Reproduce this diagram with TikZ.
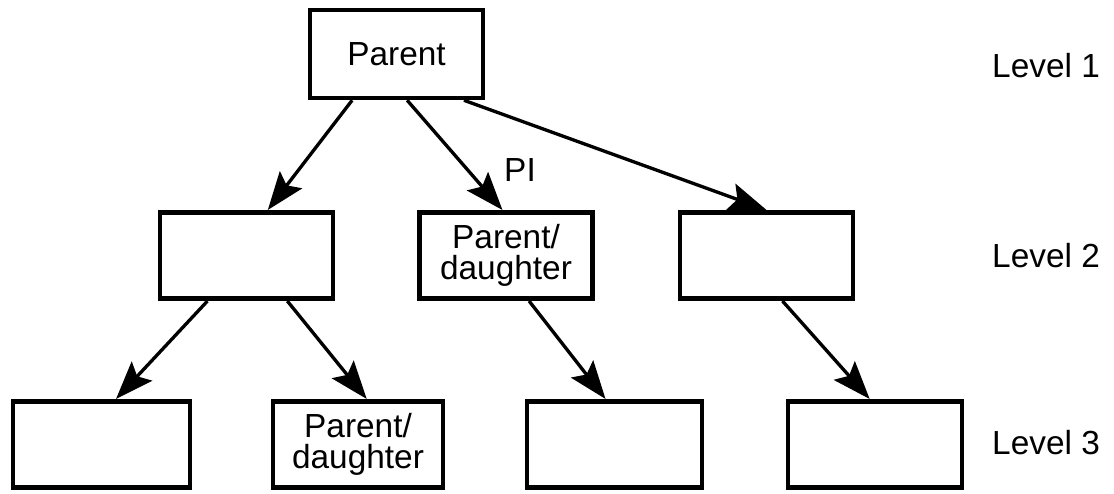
\documentclass[tikz,border=0pt]{standalone}
\usepackage{fontspec}
\setmainfont{Liberation Sans}
\usetikzlibrary{arrows.meta,calc}

\tikzset{
  box/.style={draw, line width=2.6pt, minimum width=3.46cm, minimum height=1.73cm,
    inner sep=0pt, align=center, font=\fontsize{19}{17.5}\selectfont},
  link/.style={line width=1.9pt, -{Stealth[length=0.76cm, width=0.56cm, inset=0.14cm]}},
  lvl/.style={anchor=west, font=\fontsize{19}{22}\selectfont}
}

\begin{document}
\begin{tikzpicture}[x=0.02cm, y=-0.02cm]
	  \useasboundingbox (0,0) rectangle (1114,493);

	  \node [box, minimum height=1.76cm] (par) at (396.5,54) {Parent};

	  \node [box] (l2a) at (246.5,255.5) {};
	  \node [box] (l2b) at (506,255.5) {Parent/\\daughter};
	  \node [box] (l2c) at (766.5,255.5) {};

	  \node [box, minimum width=3.54cm] (l3a) at (101.5,444.5) {};
	  \node [box, minimum width=3.4cm] (l3b) at (358,444.5) {Parent/\\daughter};
	  \node [box, minimum width=3.5cm] (l3c) at (614.5,444.5) {};
	  \node [box, minimum width=3.48cm] (l3d) at (875,444.5) {};

	  \draw [link] ($(par.south west)!.25!(par.south east)$) -- ($(l2a.north west)!.62!(l2a.north east)$);
	  \draw [link] ($(par.south west)!.56!(par.south east)$) -- ($(l2b.north west)!.48!(l2b.north east)$);
	  \draw [link] ($(par.south west)!.88!(par.south east)$) -- (l2c.north);

	  \draw [link] ($(l2a.south west)!.28!(l2a.south east)$) -- ($(l3a.north west)!.58!(l3a.north east)$);
	  \draw [link] ($(l2a.south west)!.73!(l2a.south east)$) -- ($(l3b.north west)!.55!(l3b.north east)$);
	  \draw [link] ($(l2b.south west)!.63!(l2b.south east)$) -- ($(l3c.north west)!.45!(l3c.north east)$);
	  \draw [link] ($(l2c.south west)!.59!(l2c.south east)$) -- ($(l3d.north west)!.47!(l3d.north east)$);

	  \node [font=\fontsize{19}{22}\selectfont] (pi) at (520,170) {PI};

	  % Level labels
	  \node [lvl] (lv1) at (986,66) {Level 1};
	  \node [lvl] (lv2) at (986,256) {Level 2};
	  \node [lvl] (lv3) at (986,443) {Level 3};
\end{tikzpicture}
\end{document}
